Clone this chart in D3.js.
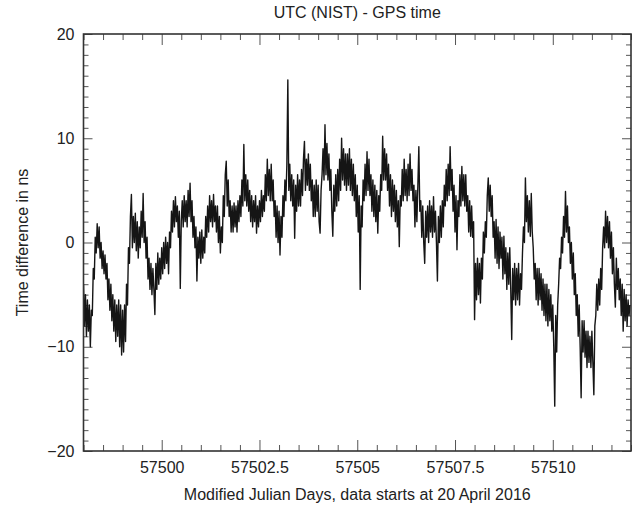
<!DOCTYPE html>
<html>
<head>
<meta charset="utf-8">
<script src="https://cdn.jsdelivr.net/npm/d3@7/dist/d3.min.js"></script>
<style>
  html, body { margin: 0; padding: 0; background: #fff; }
  svg { display: block; }
  text { font-family: "Liberation Sans", Arial, Helvetica, sans-serif; fill: #222; }
</style>
</head>
<body>
<svg id="chart" width="636" height="506"></svg>
<script>
// ---- data ----
const chartTitle = "UTC (NIST) - GPS time";
const xTitle = "Modified Julian Days, data starts at 20 April 2016";
const yTitle = "Time difference in ns";
const xDomain = [57498, 57512];
const yDomain = [-20, 20];
const xMajorTicks = [57500, 57502.5, 57505, 57507.5, 57510];
const xTickLabels = ["57500", "57502.5", "57505", "57507.5", "57510"];
const yMajorTicks = [-20, -10, 0, 10, 20];
const yTickLabels = ["\u221220", "\u221210", "0", "10", "20"];
// sampling grid of the series (MJD)
const mjdStart = 57498;
const mjdStep = 0.025;
// UTC(NIST) - GPS time, ns (one row per day, 40 samples each)
const offsetNs = [
  -4.0,-8.0,-5.0,-9.0,-5.5,-8.5,-6.0,-10.0,-6.5,-7.0,-2.5,-3.5,0.5,-1.0,1.8,-0.5,1.5,-1.5,0.0,-2.5,-0.8,-3.0,-1.2,-3.5,-2.0,-5.5,-3.5,-6.5,-4.0,-7.5,-5.0,-8.5,-5.5,-9.5,-6.0,-9.0,-5.5,-10.0,-6.0,-10.8,
  -6.5,-10.5,-6.0,-9.5,-4.0,-6.0,-0.5,-2.0,2.5,4.6,-0.5,2.5,0.0,2.8,-0.8,2.0,-1.5,1.5,-0.5,3.0,0.5,4.7,0.0,2.0,-1.5,0.5,-3.5,-1.5,-4.5,-2.0,-5.0,-2.5,-4.5,-6.9,-2.0,-4.5,-1.0,-4.0,-1.5,-3.5,
  -0.5,-3.0,0.0,-2.5,0.5,-2.0,0.0,-3.0,1.0,-0.5,3.0,1.0,4.0,1.5,4.4,2.0,3.5,0.5,3.0,-4.4,2.0,4.0,1.5,4.5,2.0,4.0,1.5,5.0,2.5,5.7,2.0,4.0,0.5,2.5,-0.5,1.5,-3.7,0.5,-1.5,1.0,
  -2.0,1.2,-1.5,0.5,-1.0,2.5,0.5,3.5,1.0,4.5,2.0,4.0,1.5,4.6,2.0,3.5,1.0,3.5,0.0,2.5,-1.0,1.5,0.0,4.5,2.5,6.5,7.8,3.5,6.0,2.5,4.0,1.0,3.5,1.0,3.8,1.5,3.5,1.0,4.0,2.0,
  4.5,2.5,6.0,3.5,9.4,4.0,6.5,3.5,6.0,3.0,5.0,2.0,4.5,1.5,4.0,2.0,4.5,0.9,3.5,1.5,4.0,2.0,5.0,2.5,4.5,3.0,6.5,4.0,8.0,4.5,7.0,4.0,7.5,4.0,6.0,2.5,4.0,0.5,3.5,0.0,
  3.0,-1.2,2.5,0.5,4.5,2.5,6.0,4.0,7.5,15.6,5.0,7.5,4.0,6.5,3.5,6.0,0.4,5.5,3.0,6.5,3.5,6.0,3.5,7.0,4.5,8.0,9.7,5.0,8.0,5.5,8.5,5.0,7.5,4.0,6.0,2.5,5.5,2.5,6.0,3.0,
  5.5,2.0,0.9,5.0,6.5,9.0,6.0,11.3,6.5,9.5,6.0,8.5,5.0,7.0,3.0,0.6,5.5,3.0,6.5,3.5,7.0,4.0,8.0,5.0,10.0,6.0,9.0,5.5,8.5,5.0,8.5,5.5,9.0,5.0,8.0,4.5,7.5,4.0,6.5,2.5,
  5.5,1.0,4.5,-4.5,3.5,1.5,6.0,4.0,7.5,4.5,8.7,5.0,8.0,4.5,6.5,3.0,6.0,2.5,5.5,2.0,5.0,0.9,4.5,3.0,6.5,5.0,10.2,6.0,9.0,6.0,8.5,5.0,7.5,3.5,6.5,2.5,6.0,3.0,5.5,2.0,
  5.0,1.5,4.0,-0.4,4.5,3.5,7.0,4.0,8.0,4.5,7.0,4.0,7.5,4.5,8.5,5.0,7.0,4.0,5.5,1.5,5.0,2.0,5.5,9.2,3.0,4.0,0.5,3.5,0.0,-2.0,3.0,0.5,3.5,0.0,4.0,1.0,3.5,0.5,4.4,1.0,
  3.0,0.0,-3.7,2.5,0.0,3.5,0.5,4.0,1.5,5.5,3.5,7.0,4.0,7.5,4.5,9.2,5.0,7.0,3.0,5.5,1.0,4.5,-0.7,4.0,2.5,6.5,3.5,7.3,4.0,6.5,3.5,6.5,3.0,4.5,1.0,4.0,0.6,3.5,0.5,2.0,
  -7.4,-2.0,-5.5,-1.5,-5.0,-2.0,-5.8,-1.5,-3.5,1.0,-1.0,2.0,0.5,4.5,6.2,3.0,5.5,2.5,4.5,0.5,2.0,-1.5,2.2,-2.0,1.5,-2.5,1.0,-1.5,0.5,-3.5,0.6,-3.0,-0.5,-4.5,-1.0,-4.0,-0.5,-4.5,-9.3,-2.5,
  -5.5,-2.0,-6.0,-2.5,-5.5,-2.0,-6.0,-3.0,-4.5,-1.0,1.5,0.0,6.2,2.0,4.5,1.0,4.0,0.6,4.7,1.0,-0.5,-3.5,-2.0,-5.5,-2.5,-6.0,-2.5,-5.5,-3.0,-6.5,-3.5,-7.0,-4.0,-7.5,-4.0,-8.0,-4.5,-7.5,-5.0,-8.5,
  -6.0,-10.0,-15.7,-7.0,-10.5,-6.0,-4.0,-1.5,-2.5,0.5,-1.0,2.5,0.5,4.9,1.0,3.5,0.0,1.5,-2.0,0.0,-3.5,-1.0,-5.0,-3.0,-7.0,-5.0,-9.0,-6.0,-10.0,-14.9,-7.5,-10.5,-7.5,-11.0,-8.5,-12.0,-8.5,-11.5,-9.0,-12.0,
  -8.5,-11.5,-14.6,-8.0,-7.0,-4.0,-6.5,-3.5,-6.0,-2.5,-4.5,-0.5,1.5,-0.5,3.0,0.0,2.5,-0.5,2.0,-1.5,1.0,-3.0,-0.5,-4.0,-6.2,-1.5,-4.5,-2.5,-5.5,-3.5,-7.0,-4.0,-8.5,-4.5,-7.5,-5.0,-8.0,-5.5,-7.0,-6.0
];

// ---- chart ----
const svg = d3.select("#chart");
const margin = { left: 83.5, right: 5, top: 34, bottom: 55 };
const W = 636, H = 506;
const x = d3.scaleLinear().domain(xDomain).range([margin.left, W - margin.right]);
const y = d3.scaleLinear().domain(yDomain).range([H - margin.bottom, margin.top]);

const xMinor = d3.range(xDomain[0], xDomain[1] + 1e-9, 0.5).filter(v => !xMajorTicks.includes(v));
const yMinor = d3.range(yDomain[0], yDomain[1] + 1e-9, 1).filter(v => !yMajorTicks.includes(v));

const tickColor = "#555";
function styleAxis(g) {
  g.select(".domain").remove();
  g.selectAll(".tick line").attr("stroke", tickColor).attr("stroke-width", 1);
  g.selectAll(".tick text").attr("font-size", 16).attr("fill", "#222")
    .attr("font-family", '"Liberation Sans", Arial, Helvetica, sans-serif');
}

const bottomY = y.range()[0], topY = y.range()[1];
const leftX = x.range()[0], rightX = x.range()[1];

// bottom minor + major with labels
svg.append("g").attr("transform", `translate(0,${bottomY})`)
  .call(d3.axisBottom(x).tickValues(xMinor).tickSize(-6).tickFormat("")).call(styleAxis);
svg.append("g").attr("transform", `translate(0,${bottomY})`)
  .call(d3.axisBottom(x).tickValues(xMajorTicks).tickSize(-11).tickPadding(11)
    .tickFormat((d, i) => xTickLabels[i])).call(styleAxis);
// top ticks
svg.append("g").attr("transform", `translate(0,${topY})`)
  .call(d3.axisTop(x).tickValues(xMinor).tickSize(-6).tickFormat("")).call(styleAxis);
svg.append("g").attr("transform", `translate(0,${topY})`)
  .call(d3.axisTop(x).tickValues(xMajorTicks).tickSize(-11).tickFormat("")).call(styleAxis);
// left ticks
svg.append("g").attr("transform", `translate(${leftX},0)`)
  .call(d3.axisLeft(y).tickValues(yMinor).tickSize(-5).tickFormat("")).call(styleAxis);
svg.append("g").attr("transform", `translate(${leftX},0)`)
  .call(d3.axisLeft(y).tickValues(yMajorTicks).tickSize(-9).tickPadding(9)
    .tickFormat((d, i) => yTickLabels[i])).call(styleAxis);
// right ticks
svg.append("g").attr("transform", `translate(${rightX},0)`)
  .call(d3.axisRight(y).tickValues(yMinor).tickSize(-5).tickFormat("")).call(styleAxis);
svg.append("g").attr("transform", `translate(${rightX},0)`)
  .call(d3.axisRight(y).tickValues(yMajorTicks).tickSize(-9).tickFormat("")).call(styleAxis);

// clip
svg.append("clipPath").attr("id", "clip").append("rect")
  .attr("x", leftX).attr("y", topY).attr("width", rightX - leftX).attr("height", bottomY - topY);

// data line
const line = d3.line()
  .x((d, i) => x(mjdStart + i * mjdStep))
  .y(d => y(d));
svg.append("path")
  .datum(offsetNs)
  .attr("clip-path", "url(#clip)")
  .attr("fill", "none")
  .attr("stroke", "#151515")
  .attr("stroke-width", 1.4)
  .attr("stroke-linejoin", "round")
  .attr("d", line);

// frame
svg.append("rect")
  .attr("x", leftX).attr("y", topY)
  .attr("width", rightX - leftX).attr("height", bottomY - topY)
  .attr("fill", "none").attr("stroke", "#333").attr("stroke-width", 1.6);

// titles
svg.append("text").attr("x", (leftX + rightX) / 2).attr("y", 18)
  .attr("text-anchor", "middle").attr("font-size", 16).text(chartTitle);
svg.append("text").attr("x", (leftX + rightX) / 2).attr("y", 500)
  .attr("text-anchor", "middle").attr("font-size", 16).text(xTitle);
svg.append("text")
  .attr("transform", `translate(28,${(topY + bottomY) / 2}) rotate(-90)`)
  .attr("text-anchor", "middle").attr("font-size", 16).text(yTitle);
</script>
</body>
</html>
